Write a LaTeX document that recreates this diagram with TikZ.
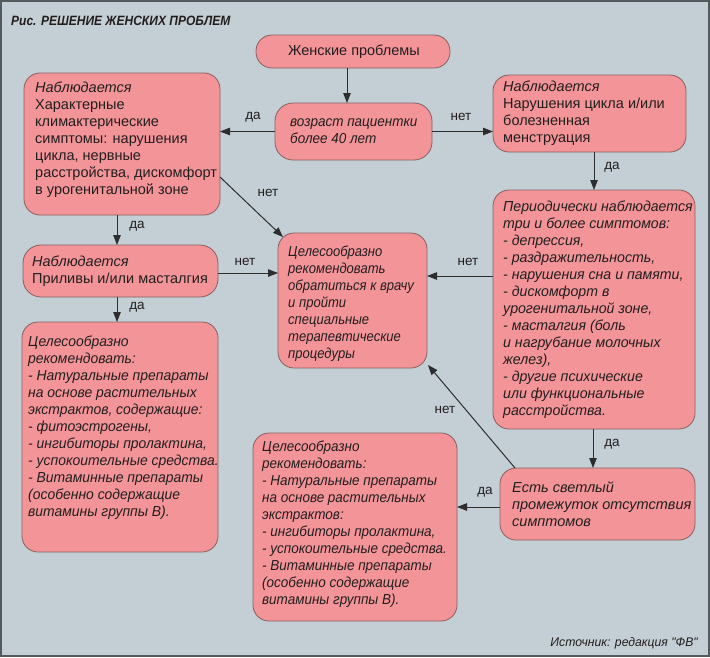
\documentclass[tikz,border=0pt]{standalone}
\usepackage{fontspec}
\setmainfont{Liberation Sans}
\newfontfamily\fA{Liberation Sans}[FakeStretch=0.90]
\newfontfamily\fB{Liberation Sans}[FakeStretch=0.93]
\newfontfamily\fC{Liberation Sans}[FakeStretch=0.96]
\newfontfamily\fD{Liberation Sans}[FakeStretch=0.975]
\newfontfamily\fT{Liberation Sans}[FakeStretch=0.89]
\usetikzlibrary{arrows.meta,calc}
\definecolor{bgc}{RGB}{196,207,213}
\definecolor{framec}{RGB}{85,90,95}
\definecolor{boxfill}{RGB}{243,148,153}
\definecolor{boxline}{RGB}{135,95,95}
\definecolor{txtc}{RGB}{35,30,30}
\definecolor{arrc}{RGB}{45,45,45}
\newcommand{\fs}{\fontsize{14.5}{17}\selectfont}
\begin{document}
\begin{tikzpicture}[x=1pt,y=-1pt,
  box/.style={draw=boxline, fill=boxfill, line width=0.8pt, rounded corners=16pt, inner sep=0pt, outer sep=0pt},
  txt/.style={anchor=north west, inner sep=0pt, align=left, text=txtc, font=\fs},
  arr/.style={draw=arrc, line width=1pt, -{Triangle[length=10pt,width=7.5pt]}},
  lbl/.style={font=\fontsize{13.5}{16}\selectfont, text=txtc, inner sep=0pt}]
\useasboundingbox (0,0) rectangle (710,657);
\fill[bgc] (0,0) rectangle (710,657);
\draw[framec, line width=2pt] (1,1) rectangle (709,656);

\node[anchor=west, inner sep=0pt, text=txtc, font=\fT\bfseries\itshape\fontsize{13.5}{15}\selectfont] (title) at (11,21) {Рис. РЕШЕНИЕ ЖЕНСКИХ ПРОБЛЕМ};
\node[anchor=east, inner sep=0pt, text=txtc, font=\fD\itshape\fontsize{12.5}{14}\selectfont] (src) at (698,643) {Источник: редакция "ФВ"};

% boxes
\node[box, minimum width=194pt, minimum height=33pt, rounded corners=16pt] (b1) at (353,51.5) {};
\node[box, minimum width=157pt, minimum height=57pt, rounded corners=18pt] (b2) at (353.5,131.5) {};
\node[box, minimum width=196pt, minimum height=142pt] (b3) at (122,144) {};
\node[box, minimum width=193pt, minimum height=77pt] (b4) at (589.5,113.5) {};
\node[box, minimum width=195pt, minimum height=52pt, rounded corners=18pt] (b5) at (120.5,271) {};
\node[box, minimum width=149pt, minimum height=135pt] (b6) at (352.5,300.5) {};
\node[box, minimum width=202pt, minimum height=239pt] (b7) at (594,309.5) {};
\node[box, minimum width=196pt, minimum height=230pt] (b8) at (120,437) {};
\node[box, minimum width=204pt, minimum height=188pt] (b9) at (355,527) {};
\node[box, minimum width=195pt, minimum height=72pt] (b10) at (597.5,504) {};

% texts
\node[inner sep=0pt, text=txtc, font=\fs] (t1) at (354,51.5) {Женские проблемы};
\node[txt, font=\fB\fs\itshape] (t2) at (290,114) {\strut возраст пациентки\\более 40 лет};
\node[txt] (t3) at (35,80) {\strut\itshape Наблюдается\\Характерные\\климактерические\\симптомы: нарушения\\цикла, нервные\\расстройства, дискомфорт\\в урогенитальной зоне};
\node[txt] (t4) at (503,79) {\strut\itshape Наблюдается\\Нарушения цикла и/или\\болезненная\\менструация};
\node[txt] (t5) at (32,254) {\strut\itshape Наблюдается\\Приливы и/или масталгия};
\node[txt, font=\fA\fs\itshape] (t6) at (288,244) {\strut Целесообразно\\рекомендовать\\обратиться к врачу\\и пройти\\специальные\\терапевтические\\процедуры};
\node[txt, font=\fD\fs\itshape] (t7) at (503,199) {\strut Периодически наблюдается\\три и более симптомов:\\- депрессия,\\- раздражительность,\\- нарушения сна и памяти,\\- дискомфорт в\\урогенитальной зоне,\\- масталгия (боль\\и нагрубание молочных\\желез),\\- другие психические\\или функциональные\\расстройства.};
\node[txt, font=\fC\fs\itshape] (t8) at (28,334) {\strut Целесообразно\\рекомендовать:\\- Натуральные препараты\\на основе растительных\\экстрактов, содержащие:\\- фитоэстрогены,\\- ингибиторы пролактина,\\- успокоительные средства.\\- Витаминные препараты\\(особенно содержащие\\витамины группы В).};
\node[txt, font=\fB\fs\itshape] (t9) at (262,439) {\strut Целесообразно\\рекомендовать:\\- Натуральные препараты\\на основе растительных\\экстрактов:\\- ингибиторы пролактина,\\- успокоительные средства.\\- Витаминные препараты\\(особенно содержащие\\витамины группы В).};
\node[txt, font=\fs\itshape] (t10) at (512,480) {\strut Есть светлый\\промежуток отсутствия\\симптомов};

% connectors
\draw[arr] ($(b1.south)+(-6,0)$) -- ($(b2.north)+(-6.5,0)$);
\draw[arr] (b2.west) -- (b2.west -| b3.east);
\draw[arr] (b2.east) -- (b2.east -| b4.west);
\draw[arr] ($(b3.east)+(0,33)$) -- ($(b6.north west)+(5,4)$);
\draw[arr] ($(b3.south)+(-5,0)$) -- ($(b5.north)+(-3.5,0)$);
\draw[arr] ($(b5.east)+(0,2)$) -- ($(b5.east -| b6.west)+(0,2)$);
\draw[arr] ($(b5.south)+(-3.5,0)$) -- ($(b8.north)+(-3,0)$);
\draw[arr] ($(b4.south)+(4.5,0)$) -- (b7.north);
\draw[arr] ($(b7.west)+(0,-33.5)$) -- ($(b7.west -| b6.east)+(0,-33.5)$);
\draw[arr] ($(b7.south)+(-1,0)$) -- ($(b10.north)+(-4.5,0)$);
\draw[arr] ($(b10.west)+(0,3)$) -- ($(b10.west -| b9.east)+(0,3)$);
\draw[arr] ($(b10.north west)+(15,0)$) -- ($(b6.south east)+(1,-3)$);

% labels
\node[lbl] (l1) at (253,117) {да};
\node[lbl] (l2) at (461,117) {нет};
\node[lbl] (l3) at (268,193) {нет};
\node[lbl] (l4) at (137,226) {да};
\node[lbl] (l5) at (245,262) {нет};
\node[lbl] (l6) at (137,307) {да};
\node[lbl] (l7) at (612,167) {да};
\node[lbl] (l8) at (468,262) {нет};
\node[lbl] (l9) at (445,410) {нет};
\node[lbl] (l10) at (612,444) {да};
\node[lbl] (l11) at (485,492) {да};
\end{tikzpicture}
\end{document}
